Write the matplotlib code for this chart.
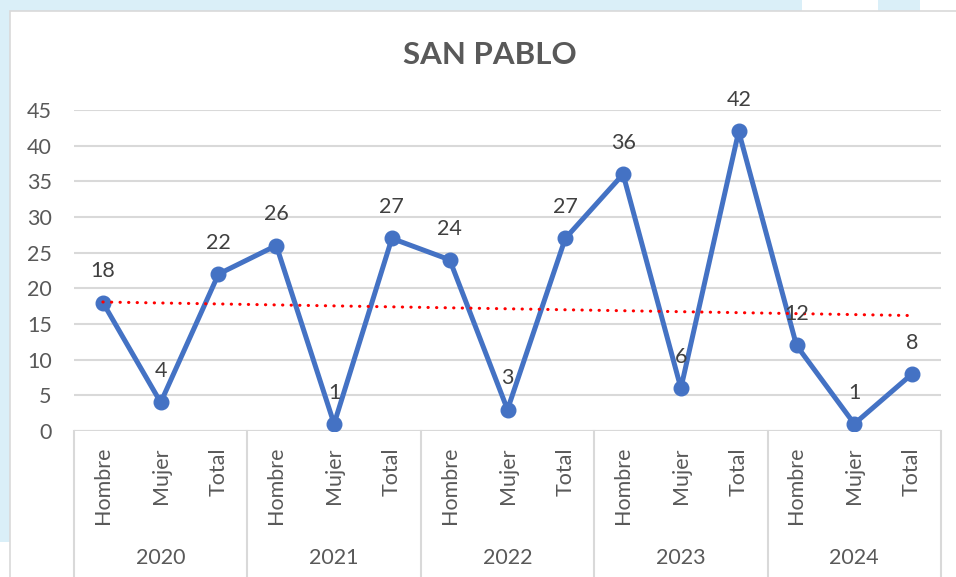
import numpy as np
import matplotlib
matplotlib.use("Agg")
from matplotlib import pyplot as plt
from matplotlib.patches import Rectangle, Polygon

plt.rcParams['font.family'] = ['Lato', 'DejaVu Sans']

# data
years = ["2020", "2021", "2022", "2023", "2024"]
groups = ["Hombre", "Mujer", "Total"]
values = [18, 4, 22, 26, 1, 27, 24, 3, 27, 36, 6, 42, 12, 1, 8]
yticks = [0, 5, 10, 15, 20, 25, 30, 35, 40, 45]

W, H = 956, 577
fig = plt.figure(figsize=(W / 100, H / 100), dpi=100)
fig.patch.set_facecolor("white")

# light blue page decoration around the chart frame
blue = "#DAEFF8"
fig.patches.append(Rectangle((0, 0.06), 10 / W, 0.94, transform=fig.transFigure,
                             facecolor=blue, edgecolor="none", zorder=0))
fig.patches.append(Polygon([(0, 1), (95 / W, 1), (85 / W, 1 - 11 / H), (0, 1 - 60 / H)],
                           closed=True, transform=fig.transFigure,
                           facecolor=blue, edgecolor="none", zorder=0))
fig.patches.append(Rectangle((85 / W, 1 - 11 / H), (802 - 85) / W, 11 / H,
                             transform=fig.transFigure, facecolor=blue, edgecolor="none", zorder=0))
fig.patches.append(Rectangle((878 / W, 1 - 11 / H), 42 / W, 11 / H,
                             transform=fig.transFigure, facecolor=blue, edgecolor="none", zorder=0))
# chart frame
fig.patches.append(Rectangle((10 / W, -0.1), 1.1, 1.1 - 11 / H, transform=fig.transFigure,
                             facecolor="white", edgecolor="#D9D9D9", linewidth=1.2, zorder=1))

# plot area
left, right, top, bottom = 74, 941, 110, 431
ax = fig.add_axes([left / W, (H - bottom) / H, (right - left) / W, (bottom - top) / H])
ax.set_zorder(2)
ax.patch.set_alpha(0)

x = np.arange(1, len(values) + 1)
ax.set_xlim(0.5, len(values) + 0.5)
ax.set_ylim(0, 45)
ax.set_yticks(yticks)
ax.set_yticklabels([str(t) for t in yticks])
ax.tick_params(axis="y", length=0, pad=16, labelsize=15.5, labelcolor="#595959")
ax.set_xticks([])
for s in ax.spines.values():
    s.set_visible(False)
ax.grid(axis="y", color="#D9D9D9", linewidth=1.5)
ax.set_axisbelow(True)
ax.axhline(0, color="#D9D9D9", linewidth=1.5, zorder=1)

ax.plot(x, values, color="#4472C4", linewidth=3.6, marker="o", markersize=10.5,
        solid_joinstyle="round", zorder=3)

# linear trendline
coef = np.polyfit(x, values, 1)
ax.plot(x, np.polyval(coef, x), color="#FF0000", linewidth=2.2,
        linestyle=(0, (0.1, 2.7)), dash_capstyle="round", zorder=4)

for xi, v in zip(x, values):
    ax.annotate(str(v), (xi, v), xytext=(0, 22.5), textcoords="offset points",
                ha="center", va="center", fontsize=15.5, color="#404040", zorder=5)

# multi-level category axis
for i, xi in enumerate(x):
    xf = ax.transData.transform((xi, 0))[0] / W
    fig.text(xf, 1 - 447 / H, groups[i % 3], rotation=90, ha="center", va="top",
             fontsize=15.5, color="#595959", zorder=3)

n = len(groups)
for j, yr in enumerate(years):
    xc = ax.transData.transform((j * n + (n + 1) / 2, 0))[0] / W
    fig.text(xc, 1 - 558 / H, yr, ha="center", va="center", fontsize=15.5,
             color="#595959", zorder=3)
for j in range(len(years) + 1):
    xb = ax.transData.transform((j * n + 0.5, 0))[0] / W
    fig.add_artist(plt.Line2D([xb, xb], [0, 1 - bottom / H], transform=fig.transFigure,
                              color="#D9D9D9", linewidth=1.5, zorder=3))

fig.text(490 / W, 1 - 55 / H, "SAN PABLO", ha="center", va="center", fontsize=22.5,
         fontweight="bold", color="#595959", zorder=3)

fig.savefig("out.png", dpi=100)
